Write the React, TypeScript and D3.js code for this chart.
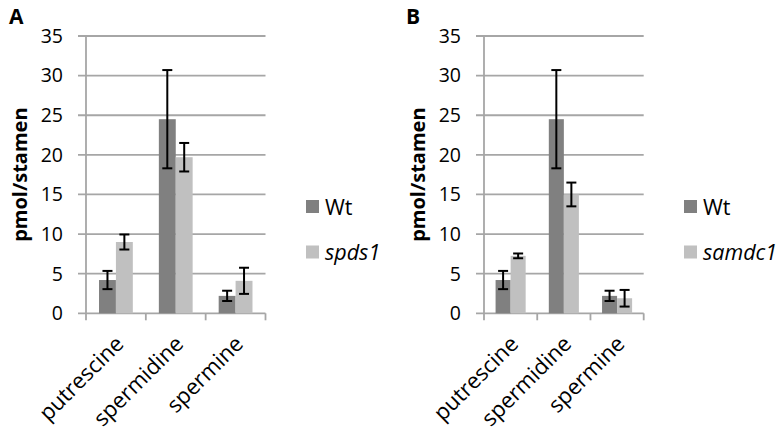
import React from "react";
import * as d3 from "d3";

const categories = ["putrescine", "spermidine", "spermine"];
const yTicks = [0, 5, 10, 15, 20, 25, 30, 35];

const wtMeans = [4.2, 24.5, 2.2];
const wtErrors = [1.15, 6.2, 0.65];

const spds1Means = [9.0, 19.7, 4.1];
const spds1Errors = [0.95, 1.8, 1.65];

const samdc1Means = [7.25, 15.0, 1.9];
const samdc1Errors = [0.3, 1.5, 1.05];

const FONT = "'Open Sans', 'Liberation Sans', sans-serif";
const GRID = "#a6a6a6";
const DARK = "#808080";
const LIGHT = "#c0c0c0";

type PanelProps = {
  letter: string;
  letterX: number;
  x0: number;
  x1: number;
  mutantName: string;
  mutantMeans: number[];
  mutantErrors: number[];
  legendX: number;
  titleX: number;
};

function Panel(p: PanelProps) {
  const y = d3.scaleLinear().domain([0, 35]).range([313.3, 36]);
  const x = d3
    .scaleBand<string>()
    .domain(categories)
    .range([p.x0, p.x1])
    .paddingInner(0.435)
    .paddingOuter(0.2175);
  const series = ["Wt", p.mutantName];
  const xs = d3.scaleBand<string>().domain(series).range([0, x.bandwidth()]);
  const data = [
    { name: "Wt", means: wtMeans, errs: wtErrors, color: DARK },
    { name: p.mutantName, means: p.mutantMeans, errs: p.mutantErrors, color: LIGHT },
  ];
  const step = x.step();
  const boundaries = d3.range(categories.length + 1).map((i) => p.x0 + i * step);
  return (
    <g>
      <text x={p.letterX} y={24} fontFamily={FONT} fontWeight="bold" fontSize={21}>
        {p.letter}
      </text>
      {yTicks.map((t) => (
        <g key={t}>
          <line x1={p.x0 - 8} x2={p.x1} y1={y(t)} y2={y(t)} stroke={GRID} strokeWidth={1.8} />
          <text
            x={p.x0 - 23}
            y={y(t)}
            dy="0.35em"
            textAnchor="end"
            fontFamily={FONT}
            fontSize={19.5}
            fill="#000"
          >
            {t}
          </text>
        </g>
      ))}
      <line x1={p.x0} x2={p.x0} y1={y(35)} y2={y(0)} stroke={GRID} strokeWidth={1.8} />
      {boundaries.map((bx, i) => (
        <line key={i} x1={bx} x2={bx} y1={y(0)} y2={y(0) + 7} stroke={GRID} strokeWidth={1.8} />
      ))}
      <text
        transform={`translate(${p.titleX},${(y(0) + y(35)) / 2}) rotate(-90)`}
        textAnchor="middle"
        fontFamily={FONT}
        fontWeight="bold"
        fontSize={20}
      >
        pmol/stamen
      </text>
      {data.map((s) =>
        categories.map((c, i) => {
          const bx = (x(c) as number) + (xs(s.name) as number);
          const bw = xs.bandwidth();
          return (
            <rect
              key={s.name + c}
              x={bx}
              y={y(s.means[i])}
              width={bw}
              height={y(0) - y(s.means[i])}
              fill={s.color}
            />
          );
        })
      )}
      {data.map((s) =>
        categories.map((c, i) => {
          const cx = (x(c) as number) + (xs(s.name) as number) + xs.bandwidth() / 2;
          const hi = y(s.means[i] + s.errs[i]);
          const lo = y(s.means[i] - s.errs[i]);
          return (
            <g key={"e" + s.name + c} stroke="#000" strokeWidth={2}>
              <line x1={cx} x2={cx} y1={hi} y2={lo} />
              <line x1={cx - 5} x2={cx + 5} y1={hi} y2={hi} />
              <line x1={cx - 5} x2={cx + 5} y1={lo} y2={lo} />
            </g>
          );
        })
      )}
      {categories.map((c) => {
        const cx = (x(c) as number) + x.bandwidth() / 2;
        return (
          <text
            key={"l" + c}
            transform={`translate(${cx + 9},${y(0) + 32}) rotate(-45)`}
            textAnchor="end"
            fontFamily={FONT}
            fontSize={22}
          >
            {c}
          </text>
        );
      })}
      {data.map((s, i) => (
        <g key={"lg" + s.name}>
          <rect x={p.legendX} y={200 + i * 45.5} width={13} height={13} fill={s.color} />
          <text
            x={p.legendX + 19}
            y={214.5 + i * 45.5}
            fontFamily={FONT}
            fontSize={21.5}
            fontStyle={i === 1 ? "italic" : "normal"}
          >
            {s.name}
          </text>
        </g>
      ))}
    </g>
  );
}

export default function App() {
  return (
    <div style={{ position: "absolute", left: 0, top: 0 }}>
      <svg width={784} height={434} style={{ display: "block", background: "#fff" }}>
        <Panel
          letter="A"
          letterX={9}
          x0={86}
          x1={265.5}
          mutantName="spds1"
          mutantMeans={spds1Means}
          mutantErrors={spds1Errors}
          legendX={306}
          titleX={27}
        />
        <Panel
          letter="B"
          letterX={406}
          x0={484}
          x1={643.7}
          mutantName="samdc1"
          mutantMeans={samdc1Means}
          mutantErrors={samdc1Errors}
          legendX={684}
          titleX={425}
        />
      </svg>
    </div>
  );
}
